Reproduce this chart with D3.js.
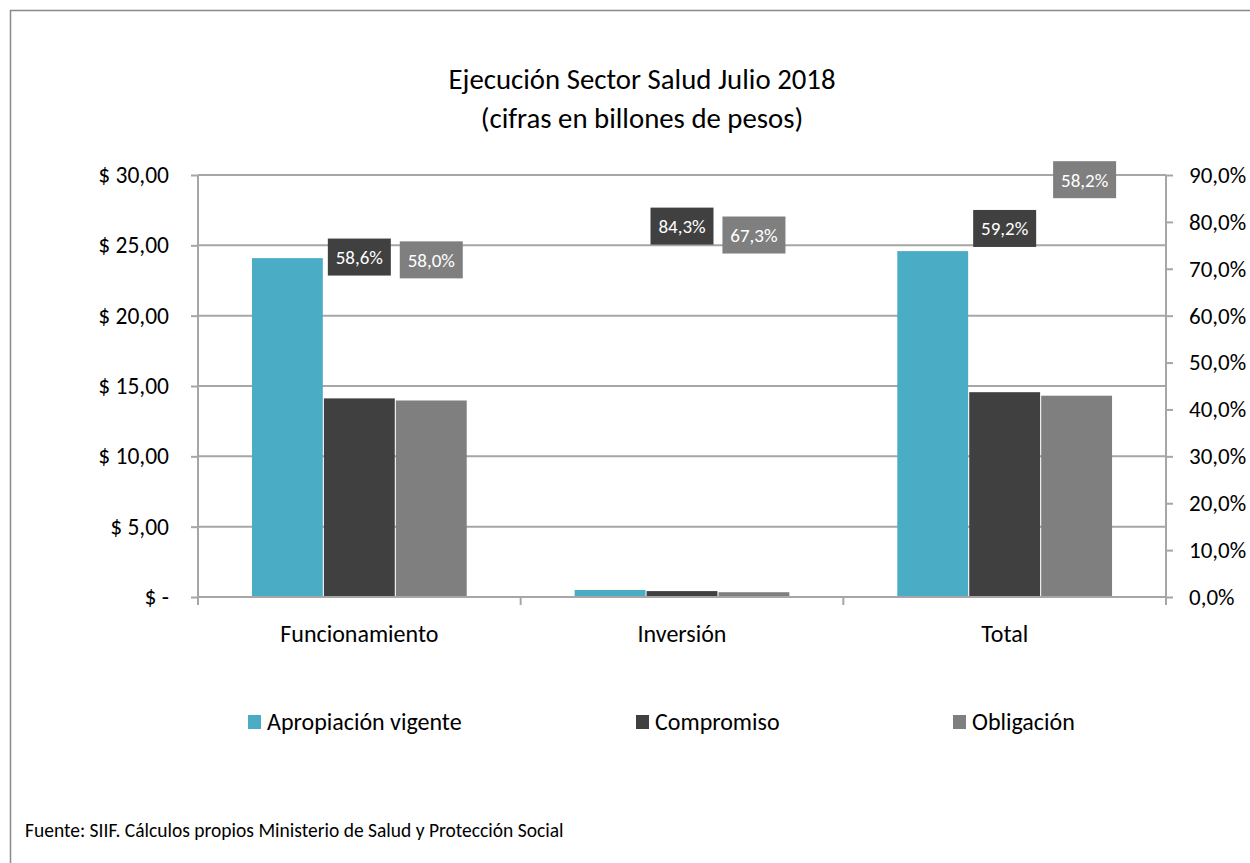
<!DOCTYPE html>
<html><head><meta charset="utf-8">
<script src="https://cdn.jsdelivr.net/npm/d3@7"></script>
<style>
html,body{margin:0;padding:0;background:#fff;}
text{font-family:Carlito, Lato, "Open Sans", sans-serif;}
</style>
</head><body>
<svg id="chart" width="1250" height="863"></svg>
<script>
// ---- data ----
const categories = ["Funcionamiento", "Inversión", "Total"];
const seriesNames = ["Apropiación vigente", "Compromiso", "Obligación"];
const apropiacion = [24.09, 0.50, 24.59];
const compromiso  = [14.12, 0.42, 14.56];
const obligacion  = [13.97, 0.34, 14.31];
const pctCompromiso = ["58,6%", "84,3%", "59,2%"];
const pctObligacion = ["58,0%", "67,3%", "58,2%"];
// label anchor heights, in units of the right (%) axis
const anchorCompromiso = [72.5, 79.1, 78.6];
const anchorObligacion = [71.9, 77.2, 89.0];
const leftTicks = [0, 5, 10, 15, 20, 25, 30];
const leftTickLabels = ["$ -", "$ 5,00", "$ 10,00", "$ 15,00", "$ 20,00", "$ 25,00", "$ 30,00"];
const rightTicks = [0, 10, 20, 30, 40, 50, 60, 70, 80, 90];
const titleLines = ["Ejecución Sector Salud Julio 2018", "(cifras en billones de pesos)"];
const footer = "Fuente: SIIF. Cálculos propios Ministerio de Salud y Protección Social";

const colors = ["#4bacc6", "#404040", "#7f7f7f"];
const series = [apropiacion, compromiso, obligacion];

const svg = d3.select("#chart");
const L = 198, R = 1166, T = 175, B = 597;
const FF = "Carlito, Lato, sans-serif";

// frame
svg.append("rect").attr("x", 10.5).attr("y", 10.5).attr("width", 1260).attr("height", 880)
  .attr("fill", "none").attr("stroke", "#898989").attr("stroke-width", 1.5);

// title
svg.selectAll("text.title").data(titleLines).join("text")
  .attr("class", "title").attr("x", 642).attr("y", (d, i) => 89 + i * 39)
  .attr("text-anchor", "middle").attr("font-size", 28.8).attr("fill", "#000").text(d => d);

const x0 = d3.scaleBand().domain(categories).range([L, R]).paddingInner(0).paddingOuter(0);
const x1 = d3.scaleBand().domain(seriesNames).range([0, x0.bandwidth()]).paddingOuter(0.75).paddingInner(0.015);
const y = d3.scaleLinear().domain([0, 30]).range([B, T]);
const y2 = d3.scaleLinear().domain([0, 90]).range([B, T]);

// gridlines
svg.append("g").selectAll("line").data(leftTicks.filter(d => d > 0)).join("line")
  .attr("x1", L).attr("x2", R).attr("y1", d => y(d)).attr("y2", d => y(d))
  .attr("stroke", "#a6a6a6").attr("stroke-width", 2);

// left axis
const yAxis = d3.axisLeft(y).tickValues(leftTicks).tickFormat((d, i) => leftTickLabels[i]).tickSize(7).tickPadding(22);
const gl = svg.append("g").attr("transform", `translate(${L},0)`).call(yAxis);
gl.select(".domain").attr("stroke", "#a6a6a6").attr("stroke-width", 2).attr("d", `M0,${T}V${B + 8}`);
gl.selectAll(".tick line").attr("stroke", "#a6a6a6").attr("stroke-width", 2);
gl.selectAll(".tick text").attr("font-size", 23.5).attr("fill", "#000").style("font-family", FF);

// right axis
const yAxis2 = d3.axisRight(y2).tickValues(rightTicks).tickFormat(d => d.toFixed(1).replace(".", ",") + "%").tickSize(7).tickPadding(16);
const gr = svg.append("g").attr("transform", `translate(${R},0)`).call(yAxis2);
gr.select(".domain").attr("stroke", "#a6a6a6").attr("stroke-width", 2).attr("d", `M0,${T}V${B + 8}`);
gr.selectAll(".tick line").attr("stroke", "#a6a6a6").attr("stroke-width", 2);
gr.selectAll(".tick text").attr("font-size", 23).attr("fill", "#000").style("font-family", FF);

// bars
categories.forEach((c, ci) => {
  series.forEach((s, si) => {
    svg.append("rect")
      .attr("x", x0(c) + x1(seriesNames[si]))
      .attr("y", y(s[ci]))
      .attr("width", x1.bandwidth())
      .attr("height", y(0) - y(s[ci]))
      .attr("fill", colors[si]);
  });
});

// bottom axis
const gb = svg.append("g");
gb.append("line").attr("x1", L).attr("x2", R).attr("y1", B).attr("y2", B).attr("stroke", "#a6a6a6").attr("stroke-width", 2);
const boundaries = categories.map(c => x0(c)).concat([R]);
gb.selectAll("line.tk").data(boundaries).join("line").attr("class", "tk")
  .attr("x1", d => d).attr("x2", d => d).attr("y1", B).attr("y2", B + 8)
  .attr("stroke", "#a6a6a6").attr("stroke-width", 2);
gb.selectAll("text").data(categories).join("text")
  .attr("x", d => x0(d) + x0.bandwidth() / 2).attr("y", 642)
  .attr("text-anchor", "middle").attr("font-size", 24).attr("fill", "#000").text(d => d);

// percentage labels
function labelBox(cx, cy, txt, fill) {
  const g = svg.append("g");
  const w = 63, h = 37;
  g.append("rect").attr("x", cx - w / 2).attr("y", cy - h / 2).attr("width", w).attr("height", h).attr("fill", fill);
  g.append("text").attr("x", cx).attr("y", cy + 7).attr("text-anchor", "middle")
    .attr("font-size", 19).attr("fill", "#fff").text(txt);
}
categories.forEach((c, ci) => {
  const cxC = x0(c) + x1(seriesNames[1]) + x1.bandwidth() / 2;
  const cxO = x0(c) + x1(seriesNames[2]) + x1.bandwidth() / 2 + (ci === 2 ? 8 : 0);
  labelBox(cxC, y2(anchorCompromiso[ci]), pctCompromiso[ci], colors[1]);
  labelBox(cxO, y2(anchorObligacion[ci]), pctObligacion[ci], colors[2]);
});

// legend
const legendX = [248, 636, 953];
seriesNames.forEach((n, i) => {
  svg.append("rect").attr("x", legendX[i]).attr("y", 715).attr("width", 13).attr("height", 14).attr("fill", colors[i]);
  svg.append("text").attr("x", legendX[i] + 19).attr("y", 730).attr("font-size", 24).attr("fill", "#000").text(n);
});

// footer
svg.append("text").attr("x", 25).attr("y", 837).attr("font-size", 19.5).attr("fill", "#000").text(footer);
</script>
</body></html>
